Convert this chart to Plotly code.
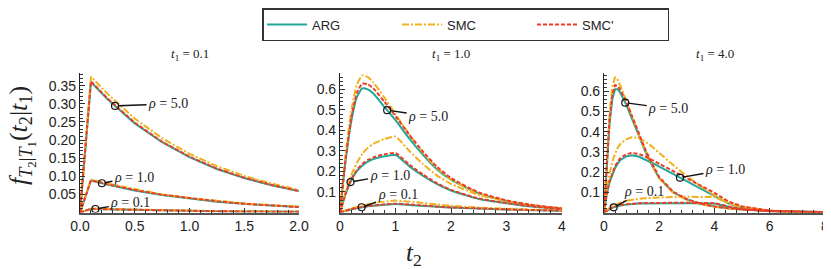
import numpy as np
import plotly.graph_objects as go

# ---------------- data ----------------
methods = ["ARG", "SMC", "SMC'"]
rho_labels = ["5.0", "1.0", "0.1"]
t1_labels = ["0.1", "1.0", "4.0"]

# panel 1 : t1 = 0.1
t2_p1 = [0, 0.1, 0.25, 0.5, 0.75, 1.0, 1.25, 1.5, 1.75, 2.0]
arg_p1_r5 = [0, 0.360, 0.313, 0.246, 0.194, 0.153, 0.120, 0.095, 0.075, 0.059]
smc_p1_r5 = [0, 0.375, 0.328, 0.259, 0.205, 0.162, 0.128, 0.101, 0.080, 0.062]
smcp_p1_r5 = [0, 0.362, 0.315, 0.248, 0.195, 0.154, 0.121, 0.096, 0.076, 0.059]
arg_p1_r1 = [0, 0.088, 0.077, 0.061, 0.048, 0.038, 0.030, 0.024, 0.019, 0.015]
smc_p1_r1 = [0, 0.091, 0.080, 0.064, 0.050, 0.040, 0.032, 0.025, 0.020, 0.016]
smcp_p1_r1 = [0, 0.089, 0.078, 0.062, 0.049, 0.039, 0.031, 0.024, 0.019, 0.015]
arg_p1_r01 = [0, 0.0100, 0.0088, 0.0070, 0.0056, 0.0044, 0.0035, 0.0028, 0.0022, 0.0018]
smc_p1_r01 = [0, 0.0110, 0.0096, 0.0077, 0.0061, 0.0048, 0.0038, 0.0030, 0.0024, 0.0019]
smcp_p1_r01 = [0, 0.0102, 0.0089, 0.0071, 0.0057, 0.0045, 0.0035, 0.0028, 0.0022, 0.0018]

# panel 2 : t1 = 1.0
t2_p2 = [0, 0.1, 0.2, 0.3, 0.4, 0.5, 0.6, 0.8, 1.0, 1.25, 1.5, 1.75, 2.0, 2.5, 3.0, 3.5, 4.0]
arg_p2_r5 = [0, 0.25, 0.44, 0.56, 0.605, 0.60, 0.58, 0.515, 0.45, 0.36, 0.28, 0.21, 0.16, 0.093, 0.056, 0.033, 0.019]
smc_p2_r5 = [0, 0.28, 0.49, 0.62, 0.668, 0.66, 0.635, 0.56, 0.48, 0.38, 0.29, 0.215, 0.16, 0.093, 0.056, 0.033, 0.019]
smcp_p2_r5 = [0, 0.26, 0.455, 0.58, 0.628, 0.625, 0.605, 0.54, 0.47, 0.378, 0.295, 0.222, 0.168, 0.098, 0.059, 0.035, 0.020]
arg_p2_r1 = [0, 0.09, 0.155, 0.20, 0.228, 0.248, 0.26, 0.274, 0.28, 0.225, 0.178, 0.138, 0.107, 0.066, 0.045, 0.028, 0.017]
smc_p2_r1 = [0, 0.10, 0.18, 0.24, 0.285, 0.315, 0.335, 0.358, 0.37, 0.30, 0.235, 0.18, 0.14, 0.085, 0.055, 0.034, 0.020]
smcp_p2_r1 = [0, 0.092, 0.16, 0.206, 0.236, 0.256, 0.269, 0.284, 0.29, 0.233, 0.184, 0.142, 0.11, 0.068, 0.046, 0.029, 0.017]
arg_p2_r01 = [0, 0.008, 0.015, 0.021, 0.026, 0.030, 0.033, 0.038, 0.041, 0.037, 0.032, 0.028, 0.024, 0.019, 0.015, 0.011, 0.009]
smc_p2_r01 = [0, 0.010, 0.019, 0.027, 0.034, 0.040, 0.045, 0.053, 0.058, 0.053, 0.046, 0.039, 0.033, 0.024, 0.018, 0.013, 0.010]
smcp_p2_r01 = [0, 0.009, 0.016, 0.022, 0.027, 0.031, 0.034, 0.039, 0.043, 0.039, 0.034, 0.029, 0.025, 0.020, 0.015, 0.012, 0.009]

# panel 3 : t1 = 4.0
t2_p3 = [0, 0.1, 0.2, 0.3, 0.4, 0.5, 0.6, 0.8, 1.0, 1.25, 1.5, 1.75, 2.0, 2.5, 3.0, 3.5, 4.0, 4.5, 5.0, 6.0, 7.0, 8.0]
arg_p3_r5 = [0, 0.25, 0.44, 0.56, 0.61, 0.61, 0.59, 0.535, 0.47, 0.39, 0.30, 0.23, 0.17, 0.10, 0.064, 0.043, 0.030, 0.021, 0.015, 0.008, 0.004, 0.002]
smc_p3_r5 = [0, 0.28, 0.49, 0.62, 0.67, 0.655, 0.625, 0.555, 0.48, 0.39, 0.305, 0.235, 0.168, 0.098, 0.062, 0.041, 0.028, 0.020, 0.014, 0.007, 0.003, 0.001]
smcp_p3_r5 = [0, 0.26, 0.455, 0.58, 0.63, 0.625, 0.605, 0.55, 0.48, 0.395, 0.31, 0.24, 0.175, 0.103, 0.066, 0.044, 0.030, 0.021, 0.015, 0.008, 0.004, 0.002]
arg_p3_r1 = [0, 0.09, 0.15, 0.19, 0.22, 0.243, 0.26, 0.277, 0.283, 0.277, 0.262, 0.245, 0.227, 0.19, 0.155, 0.12, 0.08, 0.045, 0.025, 0.008, 0.003, 0.001]
smc_p3_r1 = [0, 0.11, 0.19, 0.25, 0.29, 0.32, 0.34, 0.362, 0.372, 0.368, 0.35, 0.325, 0.295, 0.235, 0.18, 0.13, 0.085, 0.047, 0.025, 0.007, 0.002, 0.001]
smcp_p3_r1 = [0, 0.093, 0.155, 0.197, 0.228, 0.252, 0.27, 0.288, 0.295, 0.29, 0.277, 0.259, 0.241, 0.205, 0.17, 0.135, 0.097, 0.055, 0.030, 0.009, 0.003, 0.001]
arg_p3_r01 = [0, 0.009, 0.017, 0.023, 0.028, 0.032, 0.035, 0.039, 0.042, 0.044, 0.045, 0.046, 0.046, 0.046, 0.046, 0.046, 0.044, 0.028, 0.016, 0.006, 0.002, 0.001]
smc_p3_r01 = [0, 0.012, 0.022, 0.031, 0.038, 0.044, 0.049, 0.057, 0.063, 0.068, 0.071, 0.073, 0.075, 0.077, 0.078, 0.078, 0.076, 0.048, 0.028, 0.010, 0.003, 0.001]
smcp_p3_r01 = [0, 0.010, 0.018, 0.025, 0.030, 0.034, 0.037, 0.041, 0.044, 0.046, 0.047, 0.048, 0.048, 0.048, 0.048, 0.048, 0.046, 0.030, 0.017, 0.006, 0.002, 0.001]

# annotation anchors (t2 where each rho label points, on the ARG curve)
label_t_p1 = [0.32, 0.20, 0.14]
label_t_p2 = [0.85, 0.19, 0.39]
label_t_p3 = [0.77, 2.75, 0.35]

# ---------------- assembly ----------------
panels = [
    dict(t=t2_p1, data={"ARG": [arg_p1_r5, arg_p1_r1, arg_p1_r01],
                        "SMC": [smc_p1_r5, smc_p1_r1, smc_p1_r01],
                        "SMC'": [smcp_p1_r5, smcp_p1_r1, smcp_p1_r01]},
         lab_t=label_t_p1, shape="linear"),
    dict(t=t2_p2, data={"ARG": [arg_p2_r5, arg_p2_r1, arg_p2_r01],
                        "SMC": [smc_p2_r5, smc_p2_r1, smc_p2_r01],
                        "SMC'": [smcp_p2_r5, smcp_p2_r1, smcp_p2_r01]},
         lab_t=label_t_p2, shape="spline"),
    dict(t=t2_p3, data={"ARG": [arg_p3_r5, arg_p3_r1, arg_p3_r01],
                        "SMC": [smc_p3_r5, smc_p3_r1, smc_p3_r01],
                        "SMC'": [smcp_p3_r5, smcp_p3_r1, smcp_p3_r01]},
         lab_t=label_t_p3, shape="linear"),
]

colors = {"ARG": "#22a898", "SMC": "#f2b11c", "SMC'": "#ee3a28"}
dashes = {"ARG": "solid", "SMC": "7px,2px,2px,2px", "SMC'": "4px,2px"}

# page body has an 8px margin: lay the figure out in reference pixels minus that offset
OFF = 8
W, H = 831 - OFF, 269 - OFF


def fx(px):
    return (px - OFF) / W


def fy(py):
    return 1 - (py - OFF) / H


x_domains = [[fx(80), fx(299)], [fx(340), fx(562)], [fx(604), fx(825)]]
y_domain = [fy(212.5), fy(73)]
x_ranges = [[0, 2.0], [0, 4.0], [0, 8.0]]
y_ranges = [[0, 0.385], [0, 0.68], [0, 0.69]]

# label offsets in pixels (text centre relative to the anchor point)
label_offsets = [
    [(53, -2), (32, -6), (35, -6)],
    [(41, 6), (39, -7), (36, -13)],
    [(43, 6), (45, -8), (30, -16)],
]

fig = go.Figure()
for pi, p in enumerate(panels):
    xa = "x" if pi == 0 else f"x{pi+1}"
    ya = "y" if pi == 0 else f"y{pi+1}"
    for m in methods:
        for ri, series in enumerate(p["data"][m]):
            fig.add_trace(go.Scatter(
                x=p["t"], y=series, mode="lines", name=m,
                legendgroup=m, showlegend=(pi == 0 and ri == 0),
                line=dict(color=colors[m], width=2, dash=dashes[m],
                          shape=p["shape"], smoothing=0.5),
                xaxis=xa, yaxis=ya, hoverinfo="skip"))

annotations = []
for pi, p in enumerate(panels):
    xa = "x" if pi == 0 else f"x{pi+1}"
    ya = "y" if pi == 0 else f"y{pi+1}"
    px, py = [], []
    for ri in range(3):
        tx = p["lab_t"][ri]
        ty = float(np.interp(tx, p["t"], p["data"]["ARG"][ri]))
        px.append(tx)
        py.append(ty)
        ax, ay = label_offsets[pi][ri]
        annotations.append(dict(
            x=tx, y=ty, xref=xa, yref=ya, ax=ax, ay=ay,
            text=f"<i>ρ</i> = {rho_labels[ri]}", showarrow=True,
            arrowhead=0, arrowwidth=1.4, arrowcolor="#111", standoff=3,
            font=dict(family="Liberation Serif", size=14, color="#222")))
    fig.add_trace(go.Scatter(
        x=px, y=py, mode="markers", showlegend=False, hoverinfo="skip",
        marker=dict(symbol="circle-open", size=7, color="#111",
                    line=dict(width=1.2)),
        xaxis=xa, yaxis=ya))
    annotations.append(dict(
        x=sum(x_domains[pi]) / 2, y=fy(55), xref="paper", yref="paper",
        xanchor="center", yanchor="middle",
        text=f"<i>t</i><sub>1</sub> = {t1_labels[pi]}", showarrow=False,
        font=dict(family="Liberation Serif", size=13, color="#222")))

annotations.append(dict(
    x=fx(22), y=fy(136), xref="paper", yref="paper", textangle=-90,
    xanchor="center", yanchor="middle",
    text="<i>f</i><sub><i>T</i><sub>2</sub>|<i>T</i><sub>1</sub></sub>(<i>t</i><sub>2</sub>|<i>t</i><sub>1</sub>)",
    showarrow=False, font=dict(family="Liberation Serif", size=26, color="#222")))
annotations.append(dict(
    x=fx(414), y=fy(254), xref="paper", yref="paper",
    xanchor="center", yanchor="middle",
    text="<i>t</i><sub>2</sub>", showarrow=False,
    font=dict(family="Liberation Serif", size=25, color="#222")))

tickfont = dict(family="Liberation Sans", size=14, color="#222")
x_ticks = [
    dict(tickvals=[0, 0.5, 1.0, 1.5, 2.0], ticktext=["0.0", "0.5", "1.0", "1.5", "2.0"], minor_dtick=0.1),
    dict(tickvals=[0, 1, 2, 3, 4], ticktext=["0", "1", "2", "3", "4"], minor_dtick=0.2),
    dict(tickvals=[0, 2, 4, 6, 8], ticktext=["0", "2", "4", "6", "8"], minor_dtick=0.4),
]
y_ticks = [
    dict(tickvals=[0.05, 0.10, 0.15, 0.20, 0.25, 0.30, 0.35],
         ticktext=["0.05", "0.10", "0.15", "0.20", "0.25", "0.30", "0.35"], minor_dtick=0.01),
    dict(tickvals=[0.1, 0.2, 0.3, 0.4, 0.5, 0.6],
         ticktext=["0.1", "0.2", "0.3", "0.4", "0.5", "0.6"], minor_dtick=0.02),
    dict(tickvals=[0.1, 0.2, 0.3, 0.4, 0.5, 0.6],
         ticktext=["0.1", "0.2", "0.3", "0.4", "0.5", "0.6"], minor_dtick=0.02),
]

layout = dict(
    width=W, height=H, margin=dict(l=0, r=0, t=0, b=0, autoexpand=False),
    paper_bgcolor="white", plot_bgcolor="white",
    annotations=annotations,
    showlegend=True,
    legend=dict(orientation="h", xref="container", yref="container",
                x=fx(262), xanchor="left", y=1.0, yanchor="top",
                bordercolor="#333", borderwidth=1.5, bgcolor="white",
                font=dict(family="Liberation Sans", size=13, color="#222"),
                entrywidth=80, entrywidthmode="pixels", tracegroupgap=0,
                itemwidth=40),
)
for pi in range(3):
    xk = "xaxis" if pi == 0 else f"xaxis{pi+1}"
    yk = "yaxis" if pi == 0 else f"yaxis{pi+1}"
    xa = "x" if pi == 0 else f"x{pi+1}"
    ya = "y" if pi == 0 else f"y{pi+1}"
    layout[xk] = dict(domain=x_domains[pi], anchor=ya, range=x_ranges[pi], automargin=False,
                      tickvals=x_ticks[pi]["tickvals"], ticktext=x_ticks[pi]["ticktext"],
                      showgrid=False, zeroline=False, showline=True, linecolor="#555", linewidth=2,
                      ticks="inside", ticklen=5, tickcolor="#333", tickfont=tickfont,
                      minor=dict(ticks="inside", ticklen=2.5, dtick=x_ticks[pi]["minor_dtick"],
                                 tickcolor="#333", showgrid=False))
    layout[yk] = dict(domain=y_domain, anchor=xa, range=y_ranges[pi], automargin=False,
                      tickvals=y_ticks[pi]["tickvals"], ticktext=y_ticks[pi]["ticktext"],
                      showgrid=False, zeroline=False, showline=True, linecolor="#222", linewidth=1.2,
                      ticks="inside", ticklen=5, tickcolor="#333", tickfont=tickfont,
                      minor=dict(ticks="inside", ticklen=2.5, dtick=y_ticks[pi]["minor_dtick"],
                                 tickcolor="#333", showgrid=False))
fig.update_layout(**layout)
fig.write_html("out.html")
